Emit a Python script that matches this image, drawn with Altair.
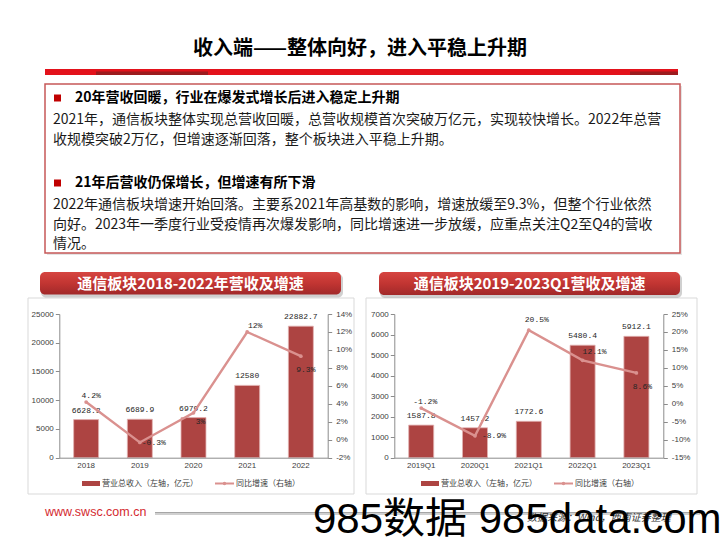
import altair as alt
import pandas as pd

W, H = 720, 540
CJK = "Noto Sans CJK SC"
SANS = "Liberation Sans"
MONO = "Liberation Mono"

# ---------------- texts ----------------
page_title = "收入端——整体向好，进入平稳上升期"
heading_1 = "20年营收回暖，行业在爆发式增长后进入稳定上升期"
body_1 = [
    "2021年，通信板块整体实现总营收回暖，总营收规模首次突破万亿元，实现较快增长。2022年总营",
    "收规模突破2万亿，但增速逐渐回落，整个板块进入平稳上升期。",
]
heading_2 = "21年后营收仍保增长，但增速有所下滑"
body_2 = [
    "2022年通信板块增速开始回落。主要系2021年高基数的影响，增速放缓至9.3%，但整个行业依然",
    "向好。2023年一季度行业受疫情再次爆发影响，同比增速进一步放缓，应重点关注Q2至Q4的营收",
    "情况。",
]
legend_bar = "营业总收入（左轴，亿元）"
legend_line = "同比增速（右轴）"
site = "www.swsc.com.cn"
source = "数据来源：Wind，西南证券整理"
watermark = "985数据 985data.com"

# ---------------- left chart data ----------------
left_title = "通信板块2018-2022年营收及增速"
years = ["2018", "2019", "2020", "2021", "2022"]
rev_year = [6628.3, 6689.9, 6979.2, 12580, 22882.7]
rev_year_labels = ["6628.3", "6689.9", "6979.2", "12580", "22882.7"]
growth_year = [4.2, -0.3, 3, 12, 9.3]
growth_year_labels = ["4.2%", "-0.3%", "3%", "12%", "9.3%"]
left_rev_ticks = [0, 5000, 10000, 15000, 20000, 25000]
left_pct_ticks = [-2, 0, 2, 4, 6, 8, 10, 12, 14]

# ---------------- right chart data ----------------
right_title = "通信板块2019-2023Q1营收及增速"
quarters = ["2019Q1", "2020Q1", "2021Q1", "2022Q1", "2023Q1"]
rev_q = [1587.8, 1457.2, 1772.6, 5480.4, 5912.1]
rev_q_labels = ["1587.8", "1457.2", "1772.6", "5480.4", "5912.1"]
growth_q = [-1.2, -8.9, 20.5, 12.1, 8.6]
growth_q_labels = ["-1.2%", "-8.9%", "20.5%", "12.1%", "8.6%"]
right_rev_ticks = [0, 1000, 2000, 3000, 4000, 5000, 6000, 7000]
right_pct_ticks = [-15, -10, -5, 0, 5, 10, 15, 20, 25]

# ---------------- styles ----------------
BAR = "#AD4442"
BAR_EDGE = "#E2B3B2"
LINE = "#DA918F"
AX = "#8C8C8C"
LAB = "#404040"

one = pd.DataFrame({"k": [0]})


def txt(s, x, y, size=14, weight="normal", color="#000000", align="left",
        font=CJK, baseline="middle", style="normal"):
    return alt.Chart(one).mark_text(
        align=align, baseline=baseline, fontSize=size, fontWeight=weight,
        color=color, font=font, fontStyle=style
    ).encode(x=alt.value(x), y=alt.value(y), text=alt.value(s))


def box(x1, y1, x2, y2, **kw):
    return alt.Chart(one).mark_rect(**kw).encode(
        x=alt.value(x1), x2=alt.value(x2), y=alt.value(y1), y2=alt.value(y2))


def hline(x1, x2, y, color, width):
    return alt.Chart(one).mark_rule(color=color, strokeWidth=width).encode(
        x=alt.value(x1), x2=alt.value(x2), y=alt.value(y))


def banner(x1, x2, y1, y2, title):
    grad = alt.Gradient(gradient="linear", x1=0, x2=0, y1=0, y2=1,
                        stops=[alt.GradientStop(color="#D64541", offset=0),
                               alt.GradientStop(color="#C23532", offset=0.5),
                               alt.GradientStop(color="#A1292A", offset=1)])
    return [
        box(x1 + 1, y1 + 2, x2 + 2, y2 + 3, color="#B0B0B0", opacity=0.6, cornerRadius=5),
        box(x1, y1, x2, y2, color=grad, cornerRadius=5),
        txt(title, (x1 + x2) / 2, (y1 + y2) / 2 + 0.5, size=15, weight="bold",
            color="white", align="center"),
    ]


def panel(cats, rev, rev_lab, gr, gr_lab, rev_dom, rev_ticks, pct_dom, pct_ticks,
          x0, x1, offsets, lx):
    yb, yt = 457.7, 314.0
    df = pd.DataFrame({"cat": cats, "rev": rev, "rev_lab": rev_lab, "gr": gr, "gr_lab": gr_lab})
    base = alt.Chart(df)

    def xs():
        return alt.Scale(domain=cats, range=[x0, x1], paddingInner=0.535, paddingOuter=0.2675)

    def ys_rev():
        return alt.Scale(domain=rev_dom, range=[yb, yt], nice=False, zero=True)

    def ys_pct():
        return alt.Scale(domain=pct_dom, range=[yb, yt], nice=False, zero=False)

    bars = base.mark_bar(color=BAR, stroke=BAR_EDGE, strokeWidth=0.8).encode(
        x=alt.X("cat:N", scale=xs(), sort=None, title=None,
                axis=alt.Axis(orient="bottom", offset=yb - H, ticks=False, tickSize=0,
                              domainColor=AX, labelFont=SANS, labelFontSize=8,
                              labelColor=LAB, labelPadding=4, labelAngle=0, grid=False,
                              zindex=1)),
        y=alt.Y("rev:Q", scale=ys_rev(), title=None,
                axis=alt.Axis(orient="left", offset=-x0, values=rev_ticks, format="d",
                              domainColor=AX, tickColor=AX, tickSize=4,
                              labelFont=SANS, labelFontSize=8, labelColor=LAB,
                              labelPadding=2, grid=False, labelOverlap=False, zindex=1)),
    )
    bar_lab = base.mark_text(font=MONO, fontSize=8, color="#262626", baseline="middle",
                             dy=-9).encode(
        x=alt.X("cat:N", scale=xs(), sort=None, axis=None),
        y=alt.Y("rev:Q", scale=ys_rev(), axis=None),
        text="rev_lab:N",
    )
    line = base.mark_line(color=LINE, strokeWidth=2.4,
                          point=alt.OverlayMarkDef(color=LINE, size=14, filled=True)).encode(
        x=alt.X("cat:N", scale=xs(), sort=None, axis=None),
        y=alt.Y("gr:Q", scale=ys_pct(), title=None,
                axis=alt.Axis(orient="right", offset=x1 - W, values=pct_ticks,
                              labelExpr="datum.value + '%'",
                              domainColor=AX, tickColor=AX, tickSize=4,
                              labelFont=SANS, labelFontSize=8, labelColor=LAB,
                              labelPadding=4, grid=False, labelOverlap=False, zindex=1)),
    )
    layers = [bars, bar_lab, line]
    for c, (dx, dy) in offsets.items():
        layers.append(
            base.transform_filter(alt.datum.cat == c).mark_text(
                font=MONO, fontSize=8, color="#262626", baseline="middle", dx=dx, dy=dy
            ).encode(
                x=alt.X("cat:N", scale=xs(), sort=None, axis=None),
                y=alt.Y("gr:Q", scale=ys_pct(), axis=None),
                text="gr_lab:N",
            )
        )
    # legend
    ly = 483.5
    layers += [
        box(lx, ly - 2.5, lx + 18, ly + 2.5, color=BAR),
        txt(legend_bar, lx + 20, ly, size=8, color=LAB),
        hline(lx + 133, lx + 152, ly, LINE, 2),
        alt.Chart(one).mark_point(filled=True, size=12, color=LINE, opacity=1).encode(
            x=alt.value(lx + 142.5), y=alt.value(ly)),
        txt(legend_line, lx + 154, ly, size=8, color=LAB),
    ]
    return layers


layers = []

# ---------------- header ----------------
layers.append(txt(page_title, 360, 49, size=20, weight="bold", align="center"))
layers.append(box(45, 69, 678, 75, color="#E3121B"))
layers.append(box(96, 71.5, 208, 75, color="#9C1B1E"))
layers.append(box(630, 71.5, 678, 75, color="#9C1B1E"))

# ---------------- text box ----------------
layers.append(box(47, 86, 682, 255, color="#D9D9D9", opacity=0.7))
layers.append(box(45, 84, 680, 253, color="white", stroke="#C65858", strokeWidth=1.5))
layers.append(box(54, 94.5, 61, 101.5, color="#C00000"))
layers.append(txt(heading_1, 75, 98, size=14, weight="bold"))
for i, s in enumerate(body_1):
    layers.append(txt(s, 53, 119.5 + i * 20.5, size=14, color="#1A1A1A"))
layers.append(box(54, 179.5, 61, 186.5, color="#C00000"))
layers.append(txt(heading_2, 75, 183, size=14, weight="bold"))
for i, s in enumerate(body_2):
    layers.append(txt(s, 53, 205 + i * 19.5, size=14, color="#1A1A1A"))

# ---------------- chart panels ----------------
layers.append(box(28, 298, 354, 494, fillOpacity=0, stroke="#D9D9D9", strokeWidth=1))
layers.append(box(366, 298, 697, 494, fillOpacity=0, stroke="#D9D9D9", strokeWidth=1))
layers += banner(40, 341, 272, 294.5, left_title)
layers += banner(379, 680, 272, 295, right_title)

left_offsets = {"2018": (5, -6), "2019": (14, 1), "2020": (7, 9), "2021": (8, -6), "2022": (5, 14)}
right_offsets = {"2019Q1": (4, -6), "2020Q1": (19, 0), "2021Q1": (8, -10),
                 "2022Q1": (12, -8), "2023Q1": (6, 14)}

layers += panel(years, rev_year, rev_year_labels, growth_year, growth_year_labels,
                [0, 25000], left_rev_ticks, [-2, 14], left_pct_ticks,
                59.3, 327.7, left_offsets, 82)
layers += panel(quarters, rev_q, rev_q_labels, growth_q, growth_q_labels,
                [0, 7000], right_rev_ticks, [-15, 25], right_pct_ticks,
                394.3, 663.3, right_offsets, 421)

# ---------------- footer ----------------
layers.append(txt(site, 45, 512, size=12.5, color="#D42A2F", font=SANS))
layers.append(hline(155, 700, 514, "#D0D0D0", 2))
layers.append(hline(155, 700, 512.5, "#A6A6A6", 1))
layers.append(txt(source, 527, 518, size=10, color="#333333", style="italic"))
layers.append(txt(watermark, 313, 533, size=42, color="#000000",
                  font="Liberation Sans, Noto Sans CJK SC", baseline="alphabetic"))

chart = alt.layer(*layers).resolve_scale(
    x="independent", y="independent"
).properties(
    width=W, height=H, padding=0, autosize=alt.AutoSizeParams(type="none"),
    background="white"
).configure_view(stroke=None)

chart.save("out.html", embed_options={"renderer": "svg", "actions": False})
